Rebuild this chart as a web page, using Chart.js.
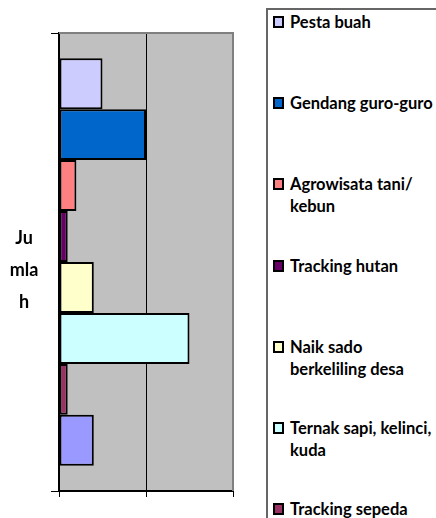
<!DOCTYPE html>
<html>
<head>
<meta charset="utf-8">
<script src="https://cdn.jsdelivr.net/npm/chart.js@4"></script>
<style>
  html, body { margin: 0; padding: 0; background: #fff; overflow: hidden; }
  body { width: 436px; height: 518px; position: relative; font-family: Lato, "Open Sans", sans-serif; font-weight: bold; }
  #wrap { position: absolute; left: 0; top: 0; width: 240px; height: 518px; }
  #ytitle { position: absolute; left: 0; width: 48px; top: 221px; text-align: center; font-size: 18px; line-height: 32px; color: #000; }
  #legend { position: absolute; left: 266px; top: 8px; width: 200px; height: 600px; border-left: 2px solid #666; border-top: 2px solid #666; }
  .item { position: absolute; left: 22px; font-size: 16.5px; line-height: 22px; color: #000; white-space: nowrap; }
  .sw { position: absolute; left: -17px; top: 5px; width: 7px; height: 8px; border: 2px solid #000; }
</style>
</head>
<body>
<div id="wrap"><canvas id="mybar" width="240" height="518"></canvas></div>
<div id="ytitle">Ju<br>mla<br>h</div>
<div id="legend"></div>
<script>
// data
const categories = ['Jumlah'];
const seriesNames = [
    ['Pesta buah'],
    ['Gendang guro-guro'],
    ['Agrowisata tani/', 'kebun'],
    ['Tracking hutan'],
    ['Naik sado', 'berkeliling desa'],
    ['Ternak sapi, kelinci,', 'kuda'],
    ['Tracking sepeda'],
    ['']
];
const values = [5, 10, 2, 1, 4, 15, 1, 4];
const colors = ['#CCCCFF', '#0066CC', '#FF8080', '#660066', '#FFFFCC', '#CCFFFF', '#993366', '#9999FF'];
const xTicks = [0, 10, 20];

// html legend
const legend = document.getElementById('legend');
seriesNames.forEach((name, i) => {
    const div = document.createElement('div');
    div.className = 'item';
    div.style.top = (1 + i * 81.2) + 'px';
    div.innerHTML = '<span class="sw" style="background:' + colors[i] + '"></span>' + name.join('<br>');
    legend.appendChild(div);
});

const plotBg = {
    id: 'plotBg',
    beforeDraw(chart) {
        const a = chart.chartArea, ctx = chart.ctx;
        ctx.save();
        ctx.fillStyle = '#C0C0C0';
        ctx.fillRect(a.left, a.top, a.right - a.left, a.bottom - a.top);
        ctx.restore();
    },
    afterDatasetsDraw(chart) {
        const a = chart.chartArea, ctx = chart.ctx;
        ctx.save();
        ctx.strokeStyle = '#808080';
        ctx.lineWidth = 2;
        ctx.beginPath();
        ctx.moveTo(a.left, a.top);
        ctx.lineTo(a.right, a.top);
        ctx.lineTo(a.right, a.bottom);
        ctx.stroke();
        ctx.restore();
    }
};

const ctx = document.getElementById('mybar').getContext('2d');
const myChart = new Chart(ctx, {
    type: 'bar',
    data: {
        labels: categories,
        datasets: seriesNames.map((name, i) => ({
            label: name.join(' '),
            data: [values[i]],
            backgroundColor: colors[i],
            borderColor: '#000',
            borderWidth: 2,
            borderSkipped: false,
            categoryPercentage: 0.89,
            barPercentage: 1
        }))
    },
    options: {
        indexAxis: 'y',
        responsive: false,
        animation: false,
        devicePixelRatio: 1,
        layout: { padding: { top: 33, right: 7, left: 0, bottom: 0 } },
        plugins: { legend: { display: false }, tooltip: { enabled: false } },
        scales: {
            x: {
                min: xTicks[0],
                max: xTicks[xTicks.length - 1],
                afterBuildTicks: s => { s.ticks = xTicks.map(v => ({ value: v })); },
                ticks: { display: false },
                grid: { color: '#000', lineWidth: 1, tickLength: 6 },
                border: { color: '#000', width: 2 },
                afterFit: s => { s.height = 27; }
            },
            y: {
                ticks: { display: false },
                grid: { color: '#000', drawOnChartArea: false, tickLength: 8 },
                border: { color: '#000', width: 2 },
                afterFit: s => { s.width = 59; }
            }
        }
    },
    plugins: [plotBg]
});
</script>
</body>
</html>
